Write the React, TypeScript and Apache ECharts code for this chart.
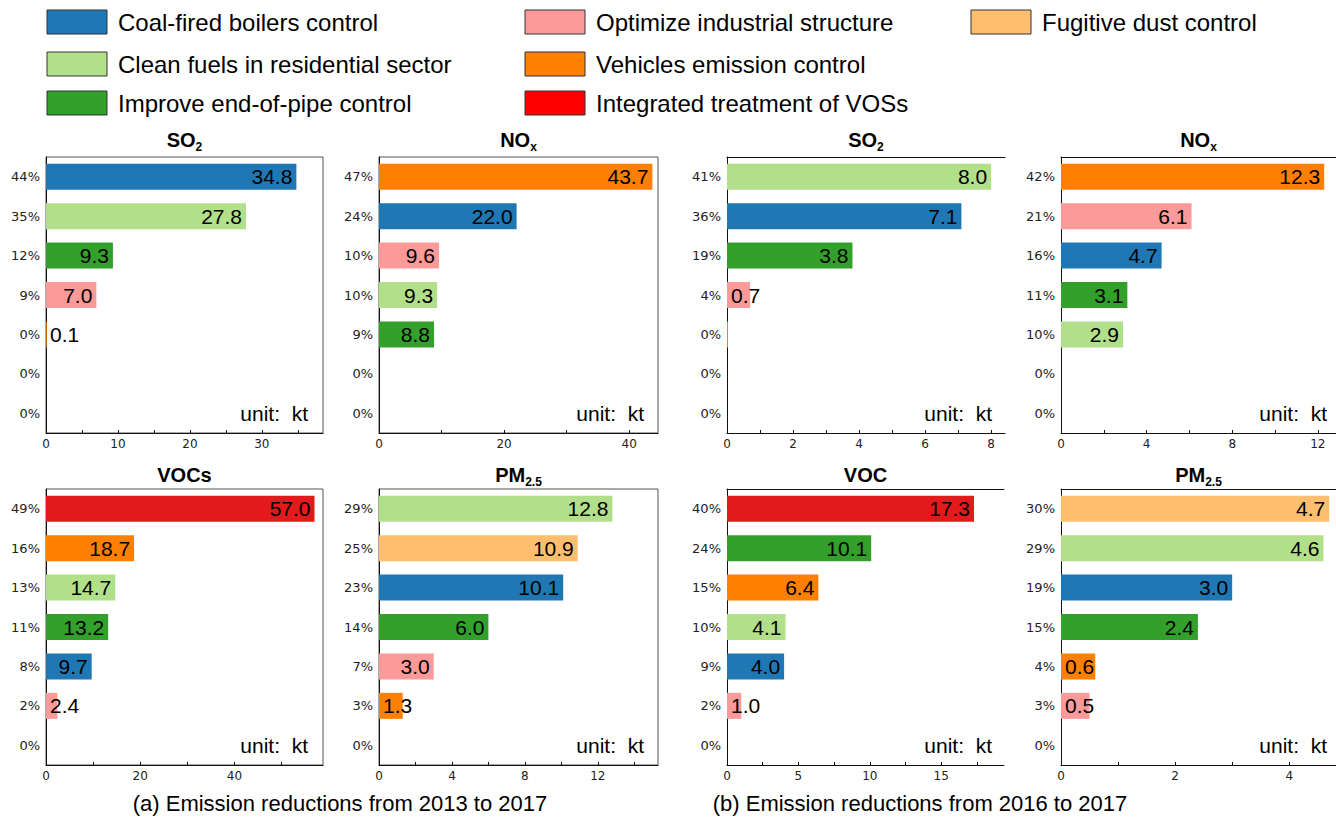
import React, { useEffect, useRef } from 'react';
import * as echarts from 'echarts';

const TEXT_FONT = '"Liberation Sans", Arial, Helvetica, sans-serif';
const TICK_FONT = '"DejaVu Sans", Verdana, sans-serif';

// Control measures, in legend order
const measureKeys = ['coal', 'residential', 'endOfPipe', 'industry', 'vehicles', 'vocs', 'dust'];
const measureNames = [
  'Coal-fired boilers control',
  'Clean fuels in residential sector',
  'Improve end-of-pipe control',
  'Optimize industrial structure',
  'Vehicles emission control',
  'Integrated treatment of VOSs',
  'Fugitive dust control',
];
const barColors: Record<string, string> = {
  coal: '#1f78b4',
  residential: '#b2df8a',
  endOfPipe: '#33a02c',
  industry: '#fb9a99',
  vehicles: '#ff7f00',
  vocs: '#e31a1c',
  dust: '#fdbf6f',
};
const legendColors: Record<string, string> = { ...barColors, vocs: '#ff0000' };

// (a) 2013 -> 2017
const a13So2Measures = ['coal', 'residential', 'endOfPipe', 'industry', 'vehicles', 'vocs', 'dust'];
const a13So2Values = [34.8, 27.8, 9.3, 7.0, 0.1, 0, 0];
const a13So2Shares = ['44%', '35%', '12%', '9%', '0%', '0%', '0%'];

const a13NoxMeasures = ['vehicles', 'coal', 'industry', 'residential', 'endOfPipe', 'vocs', 'dust'];
const a13NoxValues = [43.7, 22.0, 9.6, 9.3, 8.8, 0, 0];
const a13NoxShares = ['47%', '24%', '10%', '10%', '9%', '0%', '0%'];

const a13VocMeasures = ['vocs', 'vehicles', 'residential', 'endOfPipe', 'coal', 'industry', 'dust'];
const a13VocValues = [57.0, 18.7, 14.7, 13.2, 9.7, 2.4, 0];
const a13VocShares = ['49%', '16%', '13%', '11%', '8%', '2%', '0%'];

const a13PmMeasures = ['residential', 'dust', 'coal', 'endOfPipe', 'industry', 'vehicles', 'vocs'];
const a13PmValues = [12.8, 10.9, 10.1, 6.0, 3.0, 1.3, 0];
const a13PmShares = ['29%', '25%', '23%', '14%', '7%', '3%', '0%'];

// (b) 2016 -> 2017
const b16So2Measures = ['residential', 'coal', 'endOfPipe', 'industry', 'vehicles', 'vocs', 'dust'];
const b16So2Values = [8.0, 7.1, 3.8, 0.7, 0.03, 0, 0];
const b16So2Shares = ['41%', '36%', '19%', '4%', '0%', '0%', '0%'];

const b16NoxMeasures = ['vehicles', 'industry', 'coal', 'endOfPipe', 'residential', 'vocs', 'dust'];
const b16NoxValues = [12.3, 6.1, 4.7, 3.1, 2.9, 0, 0];
const b16NoxShares = ['42%', '21%', '16%', '11%', '10%', '0%', '0%'];

const b16VocMeasures = ['vocs', 'endOfPipe', 'vehicles', 'residential', 'coal', 'industry', 'dust'];
const b16VocValues = [17.3, 10.1, 6.4, 4.1, 4.0, 1.0, 0];
const b16VocShares = ['40%', '24%', '15%', '10%', '9%', '2%', '0%'];

const b16PmMeasures = ['dust', 'residential', 'coal', 'endOfPipe', 'vehicles', 'industry', 'vocs'];
const b16PmValues = [4.7, 4.6, 3.0, 2.4, 0.6, 0.5, 0];
const b16PmShares = ['30%', '29%', '19%', '15%', '4%', '3%', '0%'];

const captions = [
  '(a) Emission reductions from 2013 to 2017',
  '(b) Emission reductions from 2016 to 2017',
];

type Panel = {
  title: [string, string];
  measures: string[];
  values: number[];
  shares: string[];
  left: number;
  top: number;
  width: number;
  max: number;
  tickStep: number;
  labelStep: number;
  boxed: boolean;
  unitInset: number;
  titleY: number;
};

const ROW1 = 157;
const ROW2 = 489;
const PANEL_H = 276;

const panels: Panel[] = [
  { title: ['SO', '2'], measures: a13So2Measures, values: a13So2Values, shares: a13So2Shares,
    left: 46, top: ROW1, width: 277, max: 38.5, tickStep: 5, labelStep: 10, boxed: true, unitInset: 15, titleY: 140 },
  { title: ['NO', 'x'], measures: a13NoxMeasures, values: a13NoxValues, shares: a13NoxShares,
    left: 379, top: ROW1, width: 279, max: 44.6, tickStep: 10, labelStep: 20, boxed: true, unitInset: 14, titleY: 140 },
  { title: ['SO', '2'], measures: b16So2Measures, values: b16So2Values, shares: b16So2Shares,
    left: 727, top: ROW1, width: 278, max: 8.42, tickStep: 1, labelStep: 2, boxed: false, unitInset: 13, titleY: 140 },
  { title: ['NO', 'x'], measures: b16NoxMeasures, values: b16NoxValues, shares: b16NoxShares,
    left: 1061, top: ROW1, width: 275, max: 12.85, tickStep: 2, labelStep: 4, boxed: false, unitInset: 9, titleY: 140 },
  { title: ['VOCs', ''], measures: a13VocMeasures, values: a13VocValues, shares: a13VocShares,
    left: 46, top: ROW2, width: 277, max: 58.8, tickStep: 10, labelStep: 20, boxed: true, unitInset: 15, titleY: 475 },
  { title: ['PM', '2.5'], measures: a13PmMeasures, values: a13PmValues, shares: a13PmShares,
    left: 379, top: ROW2, width: 279, max: 15.3, tickStep: 2, labelStep: 4, boxed: true, unitInset: 14, titleY: 475 },
  { title: ['VOC', ''], measures: b16VocMeasures, values: b16VocValues, shares: b16VocShares,
    left: 727, top: ROW2, width: 277, max: 19.4, tickStep: 2.5, labelStep: 5, boxed: false, unitInset: 12, titleY: 475 },
  { title: ['PM', '2.5'], measures: b16PmMeasures, values: b16PmValues, shares: b16PmShares,
    left: 1061, top: ROW2, width: 275, max: 4.82, tickStep: 1, labelStep: 2, boxed: false, unitInset: 9, titleY: 475 },
];

const VALUE_FONT = 21;

// rough Arial advance widths for digit strings
const textWidth = (s: string, fs: number) =>
  s.split('').reduce((w, c) => w + (c === '.' ? 0.278 : 0.556) * fs, 0);

const isMultiple = (v: number, step: number) => Math.abs(v / step - Math.round(v / step)) < 1e-6;

function buildOption() {
  const grid: any[] = [];
  const xAxis: any[] = [];
  const yAxis: any[] = [];
  const series: any[] = [];
  const graphic: any[] = [];

  panels.forEach((p, i) => {
    grid.push({
      left: p.left,
      top: p.top,
      width: p.width,
      height: PANEL_H,
      show: p.boxed,
      borderColor: '#555',
      borderWidth: 1,
      containLabel: false,
    });
    xAxis.push({
      type: 'value',
      gridIndex: i,
      min: 0,
      max: p.max,
      interval: p.tickStep,
      axisLine: { show: true, lineStyle: { color: '#111', width: 1 } },
      axisTick: { show: true, inside: true, length: 3, lineStyle: { color: '#111' } },
      splitLine: { show: false },
      axisLabel: {
        margin: 5,
        fontFamily: TICK_FONT,
        fontSize: 12,
        color: '#222',
        showMaxLabel: false,
        formatter: (v: number) => (isMultiple(v, p.labelStep) ? String(v) : ''),
      },
    });
    if (!p.boxed) {
      // open-sided panels keep only a top rule
      xAxis.push({
        type: 'value',
        gridIndex: i,
        position: 'top',
        min: 0,
        max: p.max,
        axisLine: { show: true, lineStyle: { color: '#111', width: 1 } },
        axisTick: { show: false },
        axisLabel: { show: false },
        splitLine: { show: false },
      });
    }
    yAxis.push({
      type: 'category',
      gridIndex: i,
      inverse: true,
      data: p.shares.map((_, k) => String(k)),
      axisLine: { show: true, lineStyle: { color: '#111', width: 1 } },
      axisTick: { show: false },
      axisLabel: {
        margin: 6,
        fontFamily: TICK_FONT,
        fontSize: 13,
        color: '#222',
        formatter: (v: string) => p.shares[Number(v)],
      },
    });

    const xIndex = xAxis.length - (p.boxed ? 1 : 2);
    series.push({
      type: 'bar',
      xAxisIndex: xIndex,
      yAxisIndex: i,
      barWidth: '66%',
      label: {
        show: true,
        fontFamily: TEXT_FONT,
        fontSize: VALUE_FONT,
        color: '#000',
        formatter: (d: any) => Number(d.value).toFixed(1),
      },
      data: p.values.map((v, k) => {
        const txt = v.toFixed(1);
        const barPx = (v / p.max) * p.width;
        const fits = barPx - 4 >= textWidth(txt, VALUE_FONT) + 4;
        return {
          value: v,
          itemStyle: { color: barColors[p.measures[k]] },
          label: {
            show: txt !== '0.0',
            position: fits ? 'insideRight' : 'insideLeft',
            distance: 4,
          },
        };
      }),
    });

    // panel title with subscript
    const titleText = p.title[1] ? `{m|${p.title[0]}}{s|${p.title[1]}}` : `{m|${p.title[0]}}`;
    graphic.push({
      type: 'text',
      x: p.left + p.width / 2,
      y: p.titleY,
      style: {
        text: titleText,
        align: 'center',
        verticalAlign: 'middle',
        rich: {
          m: { fontFamily: TEXT_FONT, fontSize: 20, fontWeight: 'bold', fill: '#000', lineHeight: 26 },
          s: {
            fontFamily: TEXT_FONT,
            fontSize: 12,
            fontWeight: 'bold',
            fill: '#000',
            verticalAlign: 'bottom',
            lineHeight: 11,
          },
        },
      },
    });

    // unit note in the lower right of each panel
    graphic.push({
      type: 'text',
      x: p.left + p.width - p.unitInset,
      y: p.top + PANEL_H * (6.5 / 7),
      style: {
        text: 'unit:  kt',
        align: 'right',
        verticalAlign: 'middle',
        fontFamily: TEXT_FONT,
        fontSize: 21,
        fill: '#000',
      },
    });
  });

  // legend (three columns)
  const legendCols = [
    { swatchX: 47, keys: [0, 1, 2] },
    { swatchX: 525, keys: [3, 4, 5] },
    { swatchX: 971, keys: [6] },
  ];
  const legendRows = [22, 64, 103];
  legendCols.forEach((col) => {
    col.keys.forEach((m, r) => {
      const key = measureKeys[m];
      graphic.push({
        type: 'rect',
        shape: { x: col.swatchX, y: legendRows[r] - 12, width: 60, height: 24 },
        style: { fill: legendColors[key], stroke: '#333', lineWidth: 1 },
      });
      graphic.push({
        type: 'text',
        x: col.swatchX + 71,
        y: legendRows[r],
        style: {
          text: measureNames[m],
          align: 'left',
          verticalAlign: 'middle',
          fontFamily: TEXT_FONT,
          fontSize: 24,
          fill: '#000',
        },
      });
    });
  });

  // group captions
  const captionX = [340, 920];
  captions.forEach((c, k) => {
    graphic.push({
      type: 'text',
      x: captionX[k],
      y: 803,
      style: {
        text: c,
        align: 'center',
        verticalAlign: 'middle',
        fontFamily: TEXT_FONT,
        fontSize: 22,
        fill: '#000',
      },
    });
  });

  return {
    animation: false,
    backgroundColor: '#fff',
    grid,
    xAxis,
    yAxis,
    series,
    graphic,
  };
}

export default function App() {
  const ref = useRef<HTMLDivElement>(null);
  useEffect(() => {
    if (!ref.current) return;
    const chart = echarts.init(ref.current, undefined, { renderer: 'svg' });
    chart.setOption(buildOption());
    return () => chart.dispose();
  }, []);
  return (
    <div
      ref={ref}
      style={{ position: 'absolute', left: 0, top: 0, width: 1336, height: 819, background: '#fff' }}
    />
  );
}
